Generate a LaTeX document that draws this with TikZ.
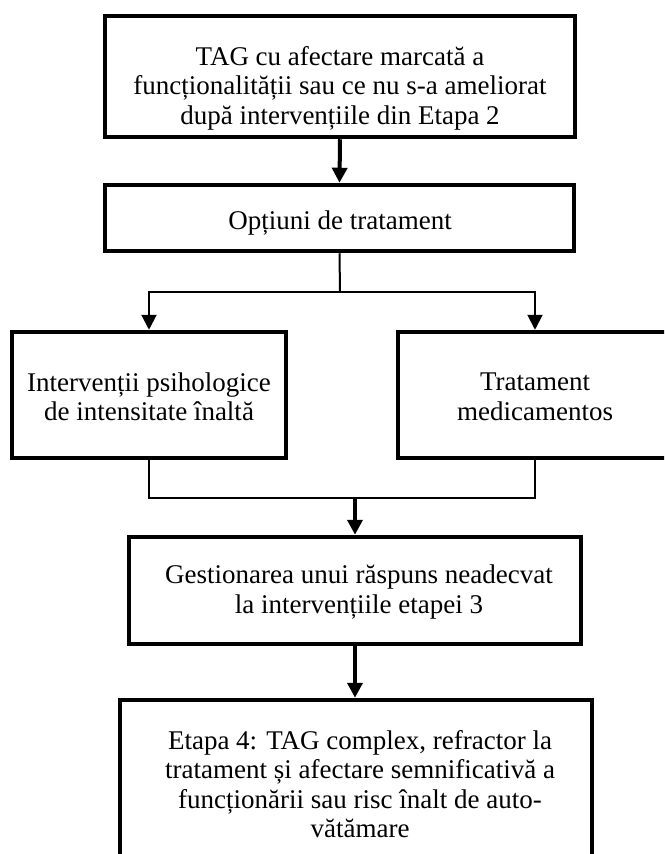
\documentclass[tikz,border=0pt]{standalone}
\usepackage{fontspec}
\setmainfont{Liberation Serif}
\usetikzlibrary{arrows.meta}
\begin{document}
\begin{tikzpicture}[x=1pt,y=-1pt,
  frame/.style={draw, rectangle, line width=4.5pt, inner sep=0pt},
  txt/.style={align=center, inner sep=0pt, font=\fontsize{27}{29.5}\selectfont},
  link/.style={line width=2pt},
  heavy/.style={line width=4pt},
  tip/.style={-{Triangle[width=15pt,length=15pt]}}
]
\useasboundingbox (0,0) rectangle (664,854);
\clip (0,0) rectangle (664,854);

% boxes
\node[frame, minimum width=470pt, minimum height=121pt] (top) at (340,76.5) {};
\node[frame, minimum width=469pt, minimum height=66pt] (opt) at (339.5,218) {};
\node[frame, minimum width=274pt, minimum height=126pt] (psy) at (149,395) {};
\node[frame, minimum width=274pt, minimum height=126pt] (med) at (535,395) {};
\node[frame, minimum width=452pt, minimum height=107pt] (mgmt) at (355,590.5) {};
\node[frame, minimum width=472pt, minimum height=200pt] (st4) at (356,800) {};

% box texts
\node[txt] (topT) at (340,88) {TAG cu afectare marcată a\\funcționalității sau ce nu s-a ameliorat\\după intervențiile din Etapa 2};
\node[txt] (optT) at (340,223) {Opțiuni de tratament};
\node[txt] (psyT) at (149,397) {Intervenții psihologice\\de intensitate înaltă};
\node[txt] (medT) at (535,397) {Tratament\\medicamentos};
\node[txt] (mgmtT) at (359,592) {Gestionarea unui răspuns neadecvat\\la intervențiile etapei 3};
\node[txt] (st4T) at (360,784) {Etapa 4: TAG complex, refractor la\\tratament și afectare semnificativă a\\funcționării sau risc înalt de auto-\\vătămare};

% connectors
\coordinate (fork) at (340,292);
\coordinate (merge) at (355,498);
\draw[heavy, tip] (top.south) -- (opt.north);
\draw[link] (opt.south) -- (fork);
\draw[link, tip] (fork) -| (psy.north);
\draw[link, tip] (fork) -| (med.north);
\draw[link] (psy.south) |- (merge) -| (med.south);
\draw[heavy, tip] (merge) -- (mgmt.north);
\draw[heavy, tip] (mgmt.south) -- (mgmt.south |- st4.north);
\end{tikzpicture}
\end{document}
